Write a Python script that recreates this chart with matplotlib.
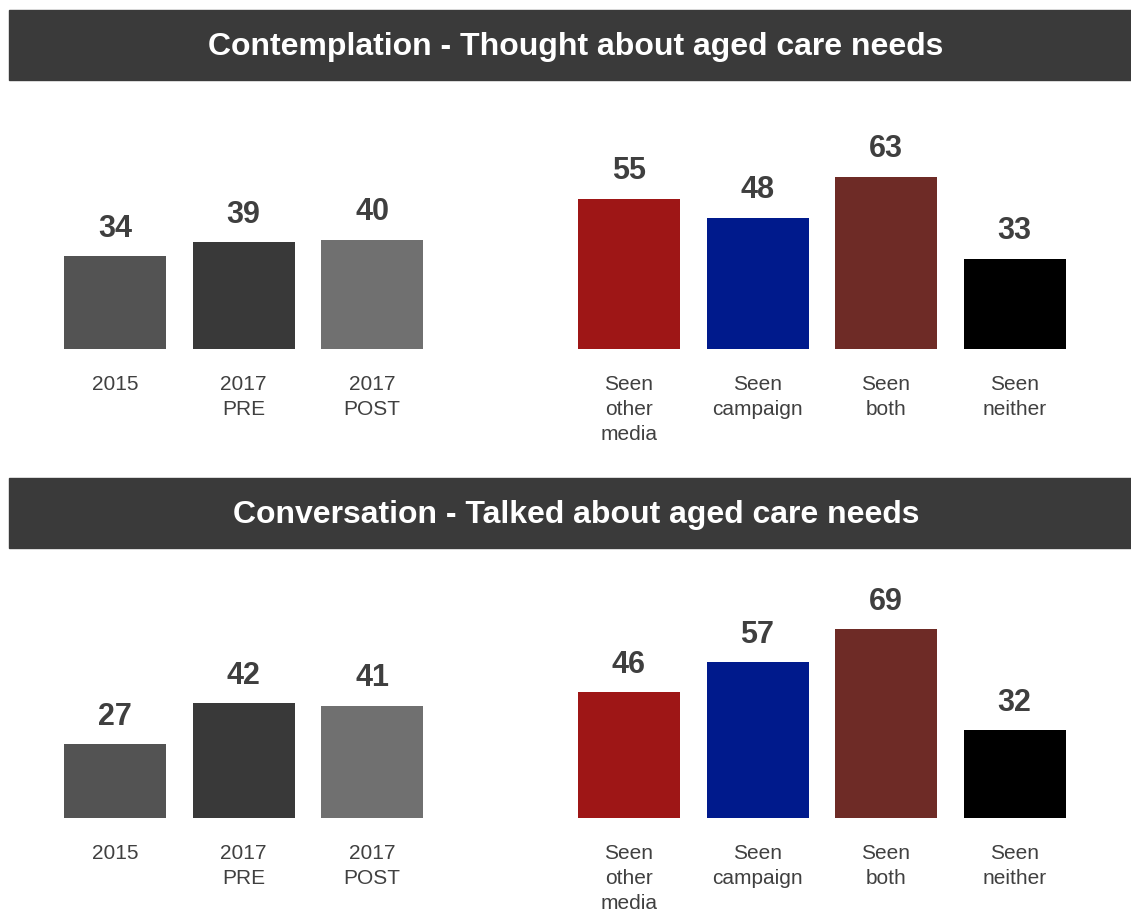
import matplotlib.pyplot as plt
from matplotlib.patches import Rectangle

plt.rcParams['font.family'] = ['Liberation Sans', 'DejaVu Sans']

## the data
categories = ['2015', '2017\nPRE', '2017\nPOST',
              'Seen\nother\nmedia', 'Seen\ncampaign', 'Seen\nboth', 'Seen\nneither']
positions = [0, 1, 2, 4, 5, 6, 7]
colors = ['#535353', '#393939', '#707070', '#9e1616', '#001a8c', '#6e2b26', '#000000']

contemplation = [34, 39, 40, 55, 48, 63, 33]
conversation = [27, 42, 41, 46, 57, 69, 32]

titles = ['Contemplation - Thought about aged care needs',
          'Conversation - Talked about aged care needs']

W, H = 1131, 913
fig = plt.figure(figsize=(W / 100, H / 100), dpi=100)

px_per_unit = 2.735
spacing = 128.5          # px between bar centres
first_centre = 115       # px

def add_row(values, baseline, band_top, title):
    # title band
    fig.patches.append(Rectangle((9 / W, 1 - (band_top + 70) / H), (W - 9) / W, 70 / H,
                                 transform=fig.transFigure, color='#3a3a3a', zorder=0))
    fig.text(576 / W, 1 - (band_top + 37) / H, title, color='white', fontsize=23,
             fontweight='bold', ha='center', va='center')

    top_px = baseline - 250
    ax = fig.add_axes([0, 1 - baseline / H, 1, (baseline - top_px) / H])
    bars = ax.bar(positions, values, width=102 / spacing, color=colors)
    ax.set_xlim(-first_centre / spacing, (W - first_centre) / spacing)
    ax.set_ylim(0, 250 / px_per_unit)
    for b, v in zip(bars, values):
        ax.annotate(str(v), (b.get_x() + b.get_width() / 2, v), xytext=(0, 9),
                    textcoords='offset points', ha='center', va='bottom',
                    fontsize=22, fontweight='bold', color='#3f3f3f')
    ax.set_xticks(positions)
    ax.set_xticklabels(categories, fontsize=15, color='#404040', linespacing=1.38)
    ax.tick_params(axis='x', length=0, pad=19)
    ax.set_yticks([])
    for s in ax.spines.values():
        s.set_visible(False)
    ax.patch.set_alpha(0)
    return ax

add_row(contemplation, 349, 10, titles[0])
add_row(conversation, 818, 478, titles[1])

fig.savefig('out.png', dpi=100)
